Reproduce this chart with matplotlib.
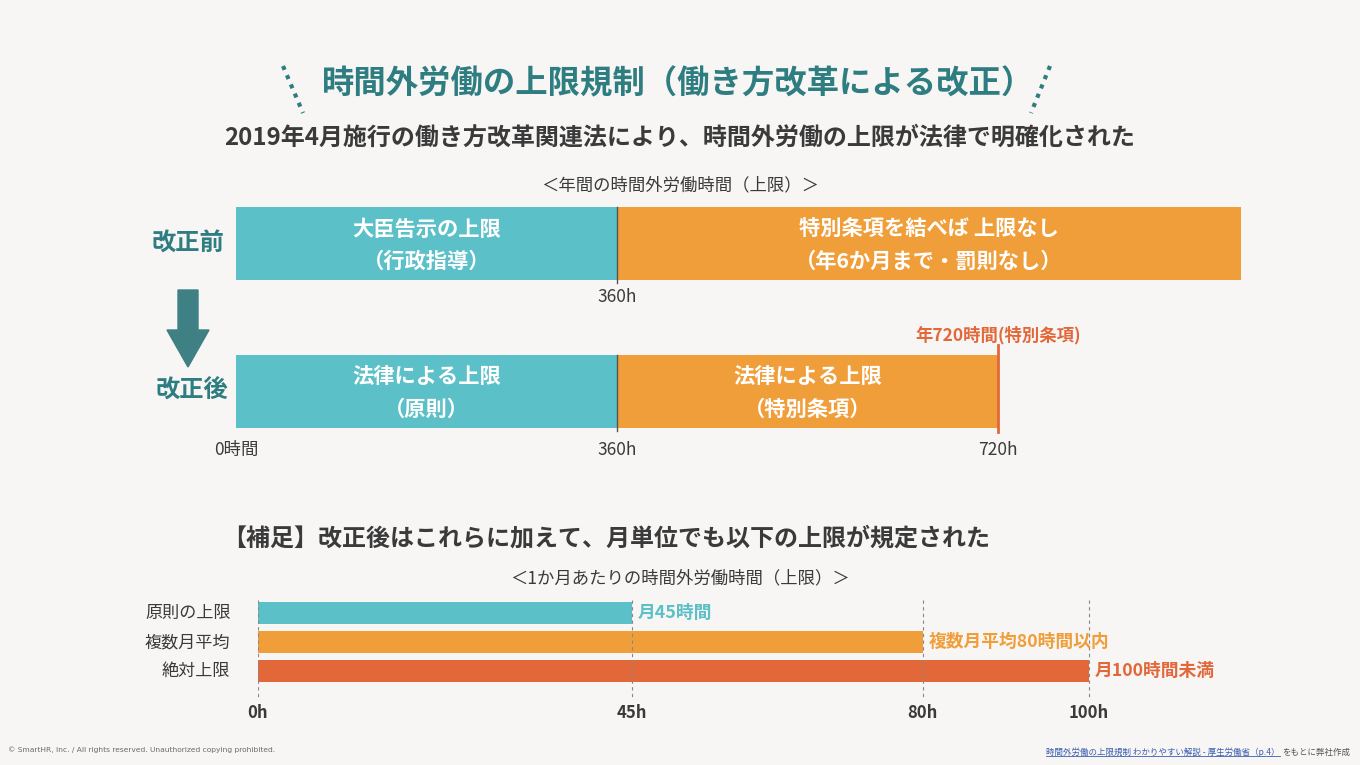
import matplotlib.pyplot as plt
from matplotlib.patches import FancyArrow
from matplotlib.lines import Line2D

plt.rcParams['font.family'] = ['Noto Sans CJK JP', 'DejaVu Sans']

# data
before_vals = [360, 590]          # second segment = "no limit", drawn to the edge
before_text = ['大臣告示の上限\n（行政指導）', '特別条項を結べば 上限なし\n（年6か月まで・罰則なし）']
after_vals = [360, 360]
after_text = ['法律による上限\n（原則）', '法律による上限\n（特別条項）']
top_ticks = [0, 360, 720]
top_tick_labels = ['0時間', '360h', '720h']

month_cats = ['原則の上限', '複数月平均', '絶対上限']
month_vals = [45, 80, 100]
month_labels = ['月45時間', '複数月平均80時間以内', '月100時間未満']
month_ticks = [0, 45, 80, 100]

TEAL = '#5BC0C7'
ORANGE = '#F09E3A'
RED = '#E2683A'
DARK_TEAL = '#2E7D81'
TXT = '#3A3A3A'
BG = '#F7F6F4'

W, H = 1360, 765
fig = plt.figure(figsize=(13.6, 7.65), dpi=100, facecolor=BG)

def px_axes(x0, y0, x1, y1):
    a = fig.add_axes([x0 / W, 1 - y1 / H, (x1 - x0) / W, (y1 - y0) / H])
    a.set_facecolor('none')
    a.axis('off')
    return a

# titles
fig.text(678 / W, 1 - 84 / H, '時間外労働の上限規制（働き方改革による改正）', ha='center', va='center',
         fontsize=23.3, fontweight='bold', color=DARK_TEAL)
fig.add_artist(Line2D([283 / W, 303 / W], [1 - 66 / H, 1 - 113 / H], ls=(0, (1, 1.4)), lw=3, color=DARK_TEAL))
fig.add_artist(Line2D([1050 / W, 1031 / W], [1 - 66 / H, 1 - 113 / H], ls=(0, (1, 1.4)), lw=3, color=DARK_TEAL))
fig.text(680 / W, 1 - 138 / H, '2019年4月施行の働き方改革関連法により、時間外労働の上限が法律で明確化された',
         ha='center', va='center', fontsize=17.3, fontweight='bold', color=TXT)
fig.text(680 / W, 1 - 185 / H, '＜年間の時間外労働時間（上限）＞', ha='center', va='center', fontsize=12.5, color=TXT)

# top chart: x in hours, y in pixel rows
ax = px_axes(236, 190, 236 + 1000 * 1.058, 470)
ax.set_xlim(0, 1000)
ax.set_ylim(470, 190)
yb, ya, bh = 243.5, 391.5, 73
lefts = [0, before_vals[0]]
for l, v, c, t in zip(lefts, before_vals, [TEAL, ORANGE], before_text):
    ax.barh(yb, v, left=l, height=bh, color=c)
    ax.text(l + v / 2, yb + 2, t, ha='center', va='center', color='white', fontsize=15.3,
            fontweight='bold', linespacing=1.65)
lefts = [0, after_vals[0]]
for l, v, c, t in zip(lefts, after_vals, [TEAL, ORANGE], after_text):
    ax.barh(ya, v, left=l, height=bh, color=c)
    ax.text(l + v / 2, ya + 2, t, ha='center', va='center', color='white', fontsize=15.3,
            fontweight='bold', linespacing=1.65)
ax.plot([360, 360], [yb - bh / 2, yb + bh / 2 + 3], color='#555555', lw=1)
ax.plot([360, 360], [ya - bh / 2, ya + bh / 2 + 3], color='#555555', lw=1)
ax.plot([720, 720], [ya - bh / 2 - 10, ya + bh / 2 + 4], color=RED, lw=2)
ax.text(360, 297, '360h', ha='center', va='center', fontsize=12.5, color=TXT)
for x, lab in zip(top_ticks, top_tick_labels):
    ax.text(x, 450, lab, ha='center', va='center', fontsize=12.5, color=TXT)
ax.text(720, 335, '年720時間(特別条項)', ha='center', va='center', fontsize=12.5,
        fontweight='bold', color=RED)

fig.text(188 / W, 1 - 244 / H, '改正前', ha='center', va='center', fontsize=17.5, fontweight='bold', color=DARK_TEAL)
fig.text(192 / W, 1 - 391 / H, '改正後', ha='center', va='center', fontsize=17.5, fontweight='bold', color=DARK_TEAL)
fig.add_artist(FancyArrow(188 / W, 1 - 290 / H, 0, -77 / H, width=20 / W, head_width=42 / W,
                          head_length=37 / H, length_includes_head=True, color='#3E8084',
                          transform=fig.transFigure))

# bottom section
fig.text(222 / W, 1 - 539 / H, '【補足】改正後はこれらに加えて、月単位でも以下の上限が規定された',
         ha='left', va='center', fontsize=17.3, fontweight='bold', color=TXT)
fig.text(680 / W, 1 - 578 / H, '＜1か月あたりの時間外労働時間（上限）＞', ha='center', va='center',
         fontsize=12.5, color=TXT)

bx = px_axes(258, 590, 258 + 130 * 8.31, 725)
bx.set_xlim(0, 130)
bx.set_ylim(725, 590)
ys = [613, 642, 671]
for x in month_ticks:
    bx.plot([x, x], [600, 700], color='#888888', lw=0.8, ls=(0, (3, 3)), zorder=3)
    bx.text(x, 713, f'{x}h', ha='center', va='center', fontsize=12, fontweight='bold', color=TXT)
for y, v, c, cat, lab in zip(ys, month_vals, [TEAL, ORANGE, RED], month_cats, month_labels):
    bx.barh(y, v, height=22, color=c, zorder=2)
    bx.text(-3.3, y, cat, ha='right', va='center', fontsize=12.3, color=TXT)
    bx.text(v + 0.7, y, lab, ha='left', va='center', fontsize=12.8, fontweight='bold', color=c)

# footers
fig.text(8 / W, 1 - 750 / H, '© SmartHR, Inc. / All rights reserved. Unauthorized copying prohibited.',
         ha='left', va='center', fontsize=5.4, color='#6A6A6A', family=['DejaVu Sans'])
link = fig.text(1046 / W, 1 - 752 / H, '時間外労働の上限規制 わかりやすい解説 - 厚生労働省（p.4）',
                ha='left', va='center', fontsize=6.1, color='#3A5DB0')
fig.canvas.draw()
bb = link.get_window_extent()
fig.add_artist(Line2D([bb.x0 / W, bb.x1 / W], [(bb.y0 + 1) / H, (bb.y0 + 1) / H], lw=0.6, color='#3A5DB0'))
fig.text((bb.x1 + 3) / W, 1 - 752 / H, 'をもとに弊社作成', ha='left', va='center', fontsize=6.1, color='#555555')

fig.savefig('out.png', dpi=100, facecolor=BG)
